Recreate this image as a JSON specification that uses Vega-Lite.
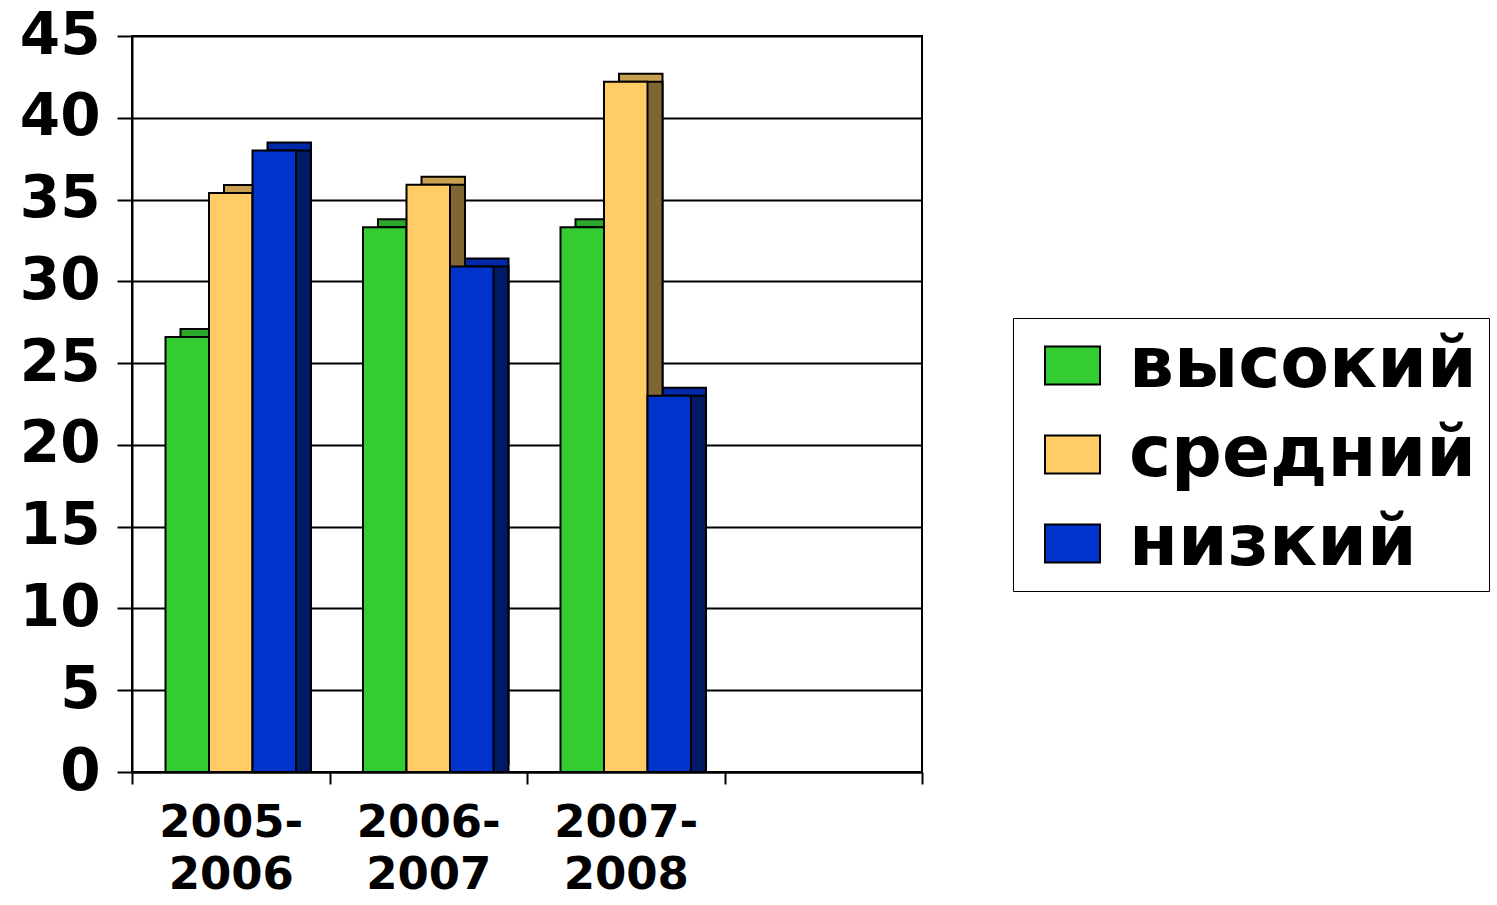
{
  "$schema": "https://vega.github.io/schema/vega-lite/v6.json",
  "width": 790,
  "height": 736,
  "autosize": {"type": "none"},
  "padding": {"left": 132, "top": 36, "right": 575, "bottom": 133},
  "background": "white",
  "config": {
    "view": {"stroke": "black", "strokeWidth": 2},
    "font": "DejaVu Sans"
  },
  "data": {
    "values": [
      {"year": "2005-2006", "level": "высокий", "value": 26.6},
      {"year": "2005-2006", "level": "средний", "value": 35.4},
      {"year": "2005-2006", "level": "низкий", "value": 38.0},
      {"year": "2006-2007", "level": "высокий", "value": 33.3},
      {"year": "2006-2007", "level": "средний", "value": 35.9},
      {"year": "2006-2007", "level": "низкий", "value": 30.9},
      {"year": "2007-2008", "level": "высокий", "value": 33.3},
      {"year": "2007-2008", "level": "средний", "value": 42.2},
      {"year": "2007-2008", "level": "низкий", "value": 23.0}
    ]
  },
  "encoding": {
    "x": {
      "field": "year",
      "type": "nominal",
      "scale": {"domain": ["2005-2006", "2006-2007", "2007-2008", ""], "paddingInner": 0, "paddingOuter": 0},
      "axis": {
        "title": null,
        "labelAngle": 0,
        "labelFont": "DejaVu Sans",
        "labelFontSize": 45,
        "labelFontWeight": "bold",
        "labelColor": "black",
        "labelPadding": 16,
        "labelLineHeight": 52,
        "labelExpr": "datum.label == '' ? '' : [slice(datum.label, 0, 5), slice(datum.label, 5)]",
        "tickBand": "extent",
        "tickSize": 12,
        "tickWidth": 2,
        "tickColor": "black",
        "domainColor": "black",
        "domainWidth": 2,
        "grid": false
      }
    },
    "y": {
      "field": "value",
      "type": "quantitative",
      "scale": {"domain": [0, 45], "nice": false},
      "axis": {
        "title": null,
        "values": [0, 5, 10, 15, 20, 25, 30, 35, 40, 45],
        "labelFont": "DejaVu Sans",
        "labelFontSize": 58,
        "labelFontWeight": "bold",
        "labelColor": "black",
        "labelPadding": 17,
        "tickSize": 15,
        "tickWidth": 2,
        "tickColor": "black",
        "domainColor": "black",
        "domainWidth": 2,
        "grid": true,
        "gridColor": "black",
        "gridWidth": 2,
        "gridOpacity": 1
      }
    }
  },
  "layer": [
    {
      "mark": {"type": "bar", "yOffset": -8, "stroke": "black", "strokeWidth": 2},
      "encoding": {
        "xOffset": {
          "field": "level",
          "type": "nominal",
          "sort": ["высокий", "средний", "низкий"],
          "scale": {"domain": ["высокий", "средний", "низкий"], "paddingInner": 0, "paddingOuter": 0.77, "align": 0.724}
        },
        "color": {
          "field": "level",
          "type": "nominal",
          "scale": {"domain": ["высокий", "средний", "низкий"], "range": ["#2AA82A", "#C9A052", "#0029A8"]},
          "legend": null
        }
      }
    },
    {
      "mark": {"type": "bar", "stroke": "black", "strokeWidth": 2},
      "encoding": {
        "xOffset": {
          "field": "level",
          "type": "nominal",
          "sort": ["высокий", "средний", "низкий"],
          "scale": {"domain": ["высокий", "средний", "низкий"], "paddingInner": 0, "paddingOuter": 0.77, "align": 0.724}
        },
        "color": {
          "field": "level",
          "type": "nominal",
          "scale": {"domain": ["высокий", "средний", "низкий"], "range": ["#1E7A1E", "#806633", "#001A66"]},
          "legend": null
        }
      }
    },
    {
      "mark": {"type": "bar", "stroke": "black", "strokeWidth": 2},
      "encoding": {
        "xOffset": {
          "field": "level",
          "type": "nominal",
          "sort": ["высокий", "средний", "низкий"],
          "scale": {"domain": ["высокий", "средний", "низкий"], "paddingInner": 0, "paddingOuter": 0.77, "align": 0.5}
        },
        "color": {
          "field": "level",
          "type": "nominal",
          "scale": {"domain": ["высокий", "средний", "низкий"], "range": ["#33CC33", "#FFCC66", "#0033CC"]},
          "legend": {
            "title": null,
            "orient": "none",
            "legendX": 881,
            "legendY": 282,
            "strokeColor": "black",
            "fillColor": "white",
            "padding": 12,
            "labelFont": "DejaVu Sans",
            "labelFontSize": 71,
            "labelFontWeight": "bold",
            "labelColor": "black",
            "labelLimit": 1000,
            "labelOffset": 21,
            "symbolType": "M-1,-0.69H1V0.69H-1Z",
            "symbolSize": 3025,
            "symbolStrokeColor": "black",
            "symbolStrokeWidth": 2,
            "symbolOpacity": 1,
            "symbolOffset": 12,
            "rowPadding": 17
          }
        }
      }
    }
  ],
  "resolve": {"scale": {"color": "independent", "xOffset": "independent"}}
}
